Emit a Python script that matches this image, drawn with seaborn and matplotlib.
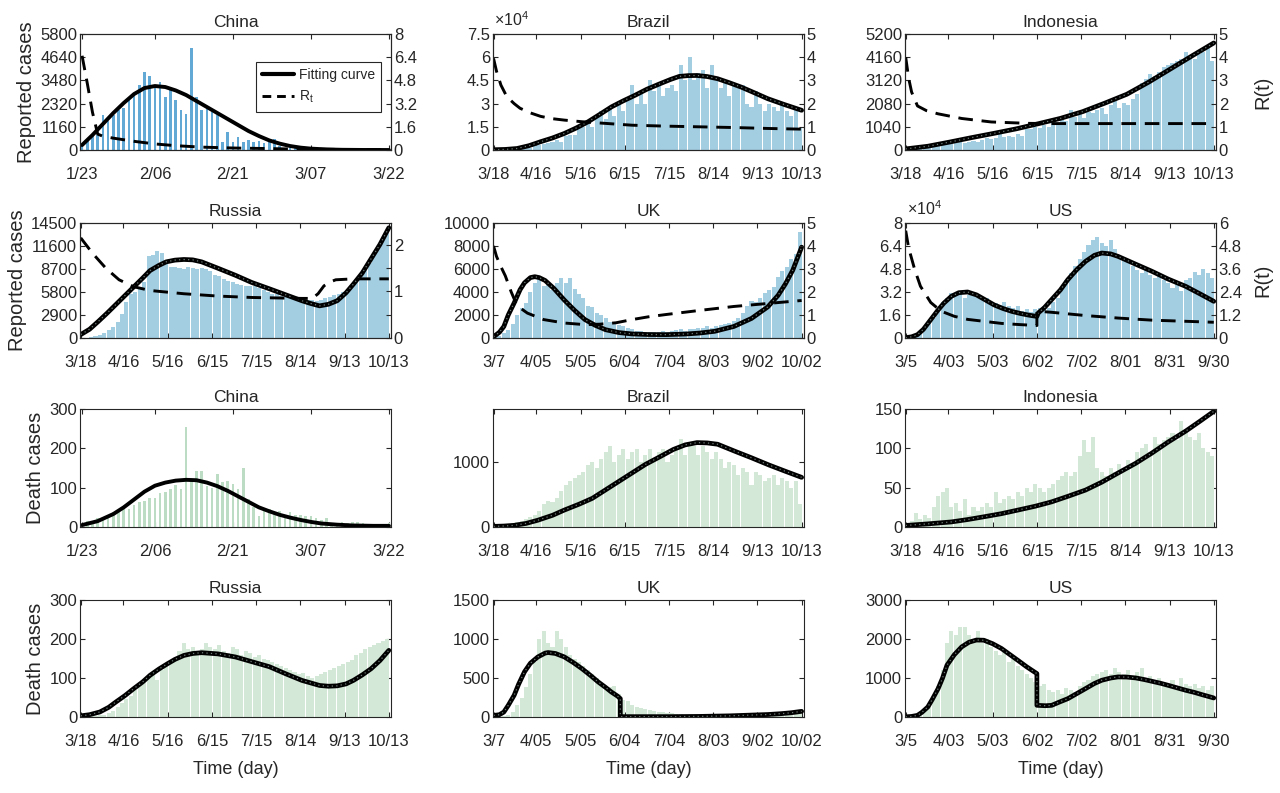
import numpy as np
import matplotlib
matplotlib.use("Agg")
import matplotlib.pyplot as plt
from matplotlib.lines import Line2D
import seaborn as sns

# x-axis dates
china_dates = ["1/23", "2/06", "2/21", "3/07", "3/22"]
march18_dates = ["3/18", "4/16", "5/16", "6/15", "7/15", "8/14", "9/13", "10/13"]
uk_dates = ["3/7", "4/05", "5/05", "6/04", "7/04", "8/03", "9/02", "10/02"]
us_dates = ["3/5", "4/03", "5/03", "6/02", "7/02", "8/01", "8/31", "9/30"]
china_tick_day = [0, 14, 29, 44, 59]
long_tick_day = [0, 29, 59, 89, 119, 149, 179, 209]

# ---------------- reported cases (China daily, others in 3-day bins)
china_cases = [259, 444, 688, 769, 1771, 1459, 1737, 1982, 2102, 2590,
               2829, 3235, 3887, 3694, 3143, 3399, 2656, 3062, 2478, 2015,
               1820, 5090, 2641, 2008, 2048, 1886, 1749, 394, 889, 397,
               648, 409, 508, 406, 433, 327, 427, 573, 202, 125,
               119, 139, 143, 99, 44, 40, 19, 24, 15, 8,
               11, 20, 16, 21, 13, 34, 39, 41, 46, 39]
brazil_cases = [300, 400, 500, 500, 800, 1000, 1300, 1500, 1200, 2500,
                3000, 4000, 4500, 5500, 6500, 5500, 9000, 10000, 9500, 14000,
                15000, 17000, 15000, 22000, 25000, 20000, 28000, 22000, 32000, 25000,
                33000, 42000, 30000, 38000, 30000, 45000, 38000, 43000, 35000, 40000,
                42000, 38000, 55000, 45000, 60000, 45000, 50000, 52000, 40000, 55000,
                45000, 40000, 45000, 35000, 42000, 40000, 42000, 30000, 28000, 38000,
                30000, 25000, 30000, 28000, 25000, 30000, 25000, 22000, 28000, 14000]
indonesia_cases = [40, 80, 100, 120, 150, 180, 230, 330, 300, 320,
                   350, 300, 380, 330, 350, 400, 380, 450, 550, 500,
                   550, 750, 600, 650, 600, 700, 650, 950, 950, 1050,
                   1000, 1100, 1050, 1250, 1200, 1400, 1300, 1800, 1500, 1600,
                   1450, 1700, 1650, 1800, 1900, 1600, 2000, 2200, 1900, 2100,
                   2000, 2300, 2500, 3000, 3200, 3400, 3300, 3500, 3700, 3800,
                   3900, 4000, 4100, 4400, 4200, 4100, 4300, 4400, 4600, 4000]
russia_cases = [20, 50, 100, 200, 400, 600, 1000, 1400, 2000, 3000,
                4500, 5500, 5800, 6300, 7000, 10300, 10500, 11000, 10700, 9500,
                9000, 8900, 8800, 8700, 8900, 8800, 8700, 8800, 8700, 8400,
                8000, 7800, 7500, 7200, 7000, 6800, 6700, 6600, 6600, 6500,
                6300, 6000, 5800, 5600, 5500, 5300, 5200, 5100, 5050, 4950,
                4900, 4850, 4750, 4700, 4800, 5000, 5200, 5400, 5600, 5800,
                6100, 6600, 7200, 7900, 8800, 9400, 10500, 11500, 12300, 13300]
uk_cases = [60, 150, 400, 700, 1200, 2000, 2600, 3000, 4000, 4800,
            5200, 4500, 4800, 4200, 4800, 5200, 4800, 5200, 4300, 3800,
            3500, 2800, 2700, 2200, 2000, 1700, 1400, 1300, 1100, 1000,
            850, 750, 650, 600, 550, 500, 550, 500, 600, 500,
            650, 700, 800, 650, 750, 800, 900, 850, 1000, 900,
            1000, 1100, 1200, 1300, 1500, 1700, 2200, 2800, 3200, 3100,
            3500, 3900, 4200, 4400, 5300, 5800, 6200, 6900, 7300, 9200]
us_cases = [200, 500, 1200, 3000, 6000, 11000, 14000, 19000, 25000, 28000,
            31000, 30000, 31000, 28000, 30000, 31000, 29000, 27000, 28000, 25000,
            24000, 23000, 25000, 22000, 21000, 22000, 19000, 20000, 18000, 20000,
            21000, 22000, 21000, 25000, 28000, 34000, 40000, 45000, 50000, 55000,
            60000, 65000, 68000, 70000, 66000, 64000, 68000, 62000, 58000, 55000,
            53000, 50000, 47000, 45000, 48000, 44000, 42000, 44000, 40000, 38000,
            35000, 38000, 33000, 40000, 42000, 46000, 44000, 48000, 45000, 42000]

# fitting curves for reported cases (day, value)
china_fit_day = [0, 2, 4, 6, 8, 10, 12, 14, 16, 18, 20, 22, 24, 26, 28, 30, 32, 34, 36, 38, 40, 42, 44, 47, 50, 54, 59]
china_fit = [250, 750, 1300, 1850, 2350, 2800, 3100, 3200, 3150, 2980, 2750, 2450, 2150, 1850, 1550, 1250, 950, 700,
             480, 320, 200, 120, 70, 30, 12, 4, 1]
brazil_fit_day = [0, 8, 16, 24, 32, 40, 48, 56, 64, 72, 80, 88, 96, 104, 113, 120, 126, 132, 138, 145, 152, 160, 168,
                  177, 186, 197, 209]
brazil_fit = [200, 400, 1000, 2800, 5400, 7800, 10700, 14200, 18200, 23000, 27900, 31800, 35400, 39300, 42900, 45600,
              47600, 48100, 48200, 47500, 46100, 43500, 40700, 37000, 33200, 29500, 25700]
indonesia_fit_day = [0, 15, 30, 45, 60, 75, 90, 105, 120, 135, 150, 165, 180, 195, 209]
indonesia_fit = [50, 170, 360, 560, 750, 950, 1180, 1420, 1720, 2100, 2500, 3050, 3650, 4250, 4800]
russia_fit_day = [0, 6, 12, 18, 24, 30, 36, 42, 47, 53, 58, 64, 70, 76, 82, 93, 105, 116, 128, 139, 150, 156, 162, 168,
                  174, 180, 185, 191, 197, 203, 209]
russia_fit = [430, 1100, 2100, 3150, 4250, 5350, 6450, 7550, 8500, 9150, 9600, 9820, 9900, 9850, 9600, 8800, 7900, 7000,
              6200, 5450, 4700, 4350, 4050, 4250, 4700, 5700, 6800, 8200, 10000, 11800, 13900]
uk_fit_day = [0, 4, 7, 10, 14, 18, 21, 25, 28, 31, 35, 41, 48, 55, 62, 69, 76, 85, 94, 105, 117, 130, 140, 150, 163,
              175, 186, 193, 198, 203, 209]
uk_fit = [100, 500, 1000, 2000, 3050, 4200, 4800, 5250, 5330, 5250, 5000, 4300, 3300, 2400, 1600, 1100, 720, 470, 350,
          300, 290, 340, 430, 580, 1000, 1700, 2700, 3700, 4700, 5900, 7900]
us_fit_day = [0, 4, 8, 12, 17, 22, 26, 31, 36, 42, 48, 54, 60, 66, 72, 78, 84, 89, 90, 94, 99, 105, 110, 116, 122, 128,
              133, 139, 144, 155, 167, 178, 190, 200, 209]
us_fit = [200, 800, 2300, 6000, 12750, 19500, 24350, 29000, 31500, 32000, 30000, 26500, 23000, 20500, 18500, 17000,
          15800, 15000, 17500, 21000, 26700, 33500, 40600, 47500, 53300, 57500, 59100, 58500, 56800, 51800, 46400,
          41000, 35900, 30500, 25500]

# effective reproduction number R(t)
china_rt_day = [0, 1, 2, 3, 4, 6, 10, 14, 18, 23, 29, 36, 42, 50, 59]
china_rt = [6.5, 4.6, 2.6, 1.1, 0.95, 0.82, 0.6, 0.42, 0.3, 0.2, 0.14, 0.1, 0.06, 0.04, 0.03]
brazil_rt_day = [0, 2, 5, 9, 14, 18, 25, 32, 40, 48, 60, 71, 94, 117, 140, 163, 186, 209]
brazil_rt = [3.95, 3.4, 2.8, 2.3, 2.0, 1.8, 1.6, 1.45, 1.35, 1.29, 1.22, 1.17, 1.07, 1.03, 1.0, 0.97, 0.93, 0.9]
indonesia_rt_day = [0, 2, 4, 8, 14, 22, 38, 58, 83, 100, 209]
indonesia_rt = [4.0, 3.1, 2.5, 1.9, 1.7, 1.56, 1.36, 1.21, 1.15, 1.14, 1.14]
russia_rt_day = [0, 8, 17, 26, 36, 47, 70, 93, 116, 150, 157, 161, 165, 169, 173, 185, 209]
russia_rt = [2.15, 1.82, 1.5, 1.25, 1.1, 1.02, 0.95, 0.9, 0.87, 0.85, 0.85, 0.95, 1.12, 1.2, 1.25, 1.27, 1.27]
uk_rt_day = [0, 2, 5, 8, 12, 16, 23, 34, 48, 62, 72, 83, 94, 105, 117, 140, 163, 186, 209]
uk_rt = [4.0, 3.55, 3.1, 2.7, 2.0, 1.4, 1.08, 0.8, 0.65, 0.58, 0.6, 0.66, 0.8, 0.92, 1.02, 1.2, 1.37, 1.5, 1.63]
us_rt_day = [0, 2, 6, 10, 17, 24, 33, 42, 53, 65, 77, 89, 89, 99, 122, 144, 167, 190, 209]
us_rt = [5.6, 4.7, 3.6, 2.7, 1.85, 1.4, 1.13, 0.97, 0.87, 0.76, 0.7, 0.65, 1.4, 1.34, 1.17, 1.04, 0.93, 0.87, 0.82]

# ---------------- death cases
china_deaths = [8, 16, 15, 24, 26, 26, 38, 43, 46, 45, 57, 64, 65, 73, 73, 86, 89, 97, 108, 97,
                254, 121, 143, 142, 105, 98, 136, 114, 118, 109, 97, 150, 71, 52, 29, 44, 47, 35, 42, 31,
                38, 31, 30, 28, 27, 22, 17, 22, 11, 7, 13, 10, 14, 13, 11, 8, 3, 7, 6, 9]
brazil_deaths = [5, 15, 25, 40, 60, 80, 100, 120, 150, 180,
                 250, 350, 400, 380, 450, 550, 650, 700, 750, 800,
                 850, 950, 1000, 900, 1050, 1150, 1250, 1000, 1100, 1200,
                 1050, 1150, 1200, 1000, 1100, 1200, 1050, 1150, 1200, 1000,
                 1100, 1200, 1350, 1100, 1300, 1250, 1100, 1250, 1150, 1050,
                 1150, 1050, 900, 1000, 950, 800, 900, 850, 650, 850,
                 800, 700, 750, 800, 650, 750, 700, 600, 700, 350]
indonesia_deaths = [3, 8, 18, 10, 15, 12, 25, 40, 45, 50,
                    25, 30, 20, 35, 15, 25, 20, 25, 30, 25,
                    45, 30, 35, 40, 35, 45, 40, 50, 45, 55,
                    50, 45, 50, 55, 60, 65, 70, 65, 70, 90,
                    110, 95, 115, 75, 70, 65, 75, 70, 80, 75,
                    85, 80, 95, 100, 105, 95, 115, 105, 110, 115,
                    120, 110, 135, 125, 115, 110, 120, 100, 95, 90]
russia_deaths = [1, 1, 2, 3, 4, 6, 10, 15, 25, 35,
                 45, 55, 70, 85, 95, 100, 110, 95, 120, 130,
                 140, 145, 170, 190, 175, 180, 170, 175, 190, 180,
                 175, 185, 170, 165, 180, 175, 160, 170, 165, 155,
                 160, 150, 145, 140, 135, 130, 125, 120, 115, 110,
                 112, 105, 100, 105, 110, 115, 120, 125, 130, 135,
                 140, 145, 160, 165, 175, 180, 185, 190, 195, 200]
uk_deaths = [1, 5, 15, 30, 60, 150, 250, 380, 550, 700,
             1000, 1100, 950, 900, 1100, 1000, 900, 800, 750, 700,
             650, 600, 550, 500, 420, 400, 380, 400, 300, 220,
             200, 150, 130, 110, 100, 90, 80, 70, 60, 55,
             50, 40, 35, 30, 25, 20, 20, 15, 15, 12,
             12, 10, 10, 10, 12, 12, 15, 15, 20, 20,
             25, 25, 30, 35, 35, 40, 50, 55, 60, 70]
us_deaths = [5, 10, 30, 60, 150, 300, 500, 800, 1200, 1900,
             2200, 2100, 2300, 2300, 2100, 2000, 2200, 1900, 2000, 1800,
             1700, 1600, 1700, 1400, 1500, 1300, 1200, 1100, 1000, 900,
             800, 850, 700, 650, 700, 600, 750, 700, 650, 800,
             900, 950, 1050, 1100, 1150, 1200, 1100, 1250, 1150, 1100,
             1200, 1050, 1150, 1250, 1000, 1050, 950, 1000, 900, 850,
             950, 800, 1000, 850, 800, 850, 750, 800, 700, 800]

china_death_fit_day = [0, 3, 6, 8, 10, 12, 14, 16, 18, 20, 22, 24, 26, 28, 30, 32, 34, 36, 38, 40, 42, 44, 46, 49, 52,
                       56, 59]
china_death_fit = [5, 15, 33, 50, 70, 90, 105, 113, 118, 120, 119, 113, 104, 92, 78, 64, 50, 40, 31, 24, 18, 13, 9, 6,
                   4, 3, 3]
brazil_death_fit_day = [0, 7, 14, 22, 30, 40, 48, 58, 67, 76, 85, 94, 103, 113, 122, 130, 138, 145, 152, 164, 175, 187,
                        198, 209]
brazil_death_fit = [10, 15, 26, 55, 104, 180, 260, 350, 440, 570, 700, 830, 960, 1080, 1190, 1260, 1295, 1290, 1270,
                    1160, 1062, 950, 855, 762]
indonesia_death_fit_day = [0, 15, 31, 42, 53, 65, 76, 88, 99, 110, 122, 133, 144, 156, 167, 178, 190, 200, 209]
indonesia_death_fit = [2, 4, 6.5, 9.5, 13, 17, 21.5, 26.5, 32, 39, 47, 57, 68.6, 81, 94, 108, 122, 135, 147]
russia_death_fit_day = [0, 6, 13, 19, 24, 30, 36, 42, 47, 53, 59, 64, 70, 76, 82, 93, 105, 116, 128, 139, 150, 162, 168,
                        174, 180, 185, 191, 197, 203, 209]
russia_death_fit = [3, 6, 13, 25, 39, 55, 73, 90, 107, 123, 137, 148, 158, 163, 165, 162, 154, 142, 129, 111, 94, 81,
                    79, 80, 85, 94, 108, 124, 145, 171]
uk_death_fit_day = [0, 4, 7, 10, 14, 17, 21, 25, 30, 35, 37, 42, 48, 54, 60, 66, 71, 76, 80, 84, 86, 86, 100, 120, 140,
                    160, 175, 186, 195, 202, 209]
uk_death_fit = [20, 30, 64, 150, 280, 420, 580, 690, 770, 820, 827, 815, 771, 700, 620, 530, 450, 380, 320, 270, 236, 5,
                5, 5, 8, 15, 25, 32, 43, 55, 73]
us_death_fit_day = [0, 4, 8, 11, 15, 18, 22, 25, 28, 33, 38, 43, 48, 53, 59, 65, 70, 76, 82, 89, 89, 95, 99, 104, 110,
                    116, 122, 128, 133, 139, 144, 150, 156, 162, 167, 173, 178, 184, 190, 196, 201, 209]
us_death_fit = [5, 15, 43, 120, 257, 450, 729, 1000, 1329, 1600, 1800, 1920, 1975, 1970, 1880, 1757, 1620, 1457, 1290,
                1114, 300, 290, 300, 380, 471, 600, 729, 860, 943, 1000, 1029, 1025, 1003, 960, 917, 865, 814, 750,
                686, 630, 574, 489]

# ---------------- style
sns.set_style("ticks")
plt.rcParams["font.family"] = ["Liberation Sans", "DejaVu Sans"]
plt.rcParams["mathtext.fontset"] = "custom"
plt.rcParams["mathtext.rm"] = "Liberation Sans"
INK = "#262626"
BLUE_DAILY, BLUE = "#62a9d6", "#a3cee2"
GREEN_DAILY, GREEN = "#bcdcc3", "#d3e8d7"

fig = plt.figure(figsize=(12.8, 7.93), dpi=100)
col_left = [0.0625, 0.385, 0.707]
col_w = 0.243
row_box = [(0.8108, 0.1463), (0.5738, 0.1450), (0.3354, 0.1488), (0.0958, 0.1475)]


def line(ax, x, y, **kw):
    sns.lineplot(x=x, y=y, ax=ax, sort=False, estimator=None, **kw)


def panel(row, col, title, bars, color, fit_day, fit_val, ylim, yticks,
          daily=False, scale=1, ylabel=None, mirror=True):
    bottom, height = row_box[row]
    ax = fig.add_axes([col_left[col], bottom, col_w, height])
    if daily:
        ax.bar(np.arange(len(bars)), bars, width=0.5, color=color, linewidth=0)
        line(ax, fit_day, fit_val, color="black", lw=2.8)
    else:
        ax.bar(np.arange(len(bars)) * 3 + 1, bars, width=2.75, color=color, linewidth=0)
        line(ax, fit_day, fit_val, color="black", lw=3.4)
        line(ax, fit_day, fit_val, color="#6f7b78", lw=0.9, linestyle=(0, (1.0, 2.6)))
    ax.set_ylim(*ylim)
    ax.set_yticks(yticks)
    ax.set_yticklabels([f"{v / scale:g}" for v in yticks])
    ax.set_title(title, fontsize=12.5, color=INK, pad=5)
    ax.tick_params(direction="in", length=3.5, width=0.8, labelsize=12, colors=INK,
                   top=True, right=mirror, pad=2)
    ax.tick_params(axis="x", pad=12)
    for s in ax.spines.values():
        s.set_visible(True)
        s.set_linewidth(0.8)
        s.set_color(INK)
    if scale != 1:
        ax.text(0.005, 1.04, r"$\times10^{4}$", transform=ax.transAxes, ha="left", va="bottom",
                fontsize=11.5, color=INK)
    if ylabel:
        ax.set_ylabel(ylabel, fontsize=14.5, color=INK, labelpad=3)
    ax.set_xlabel("")
    return ax


def add_rt(ax, rt_day, rt_val, ylim, yticks, labels=None, ylabel=None):
    ax2 = ax.twinx()
    line(ax2, rt_day, rt_val, color="black", lw=2.1, linestyle=(0, (5, 3)))
    ax2.set_ylim(*ylim)
    ax2.set_yticks(yticks)
    ax2.set_yticklabels(labels if labels else [f"{v:g}" for v in yticks])
    ax2.tick_params(direction="in", length=3.5, width=0.8, labelsize=12, colors=INK, pad=2)
    for s in ax2.spines.values():
        s.set_linewidth(0.8)
        s.set_color(INK)
    ax2.set_ylabel(ylabel if ylabel else "", fontsize=14.5, color=INK)
    ax2.yaxis.set_label_coords(1.12, 0.5)
    return ax2


def finish_x(ax, daily, dates, xlabel=None):
    if daily:
        ax.set_xlim(-0.4, 59.4)
        ax.set_xticks(china_tick_day)
    else:
        ax.set_xlim(-0.5, 210.5)
        ax.set_xticks(long_tick_day)
    ax.set_xticklabels(dates)
    if xlabel:
        ax.set_xlabel(xlabel, fontsize=13, color=INK, labelpad=9)


# row 1: reported cases
ax = panel(0, 0, "China", china_cases, BLUE_DAILY, china_fit_day, china_fit, (0, 5800),
           np.linspace(0, 5800, 6), daily=True, ylabel="Reported cases", mirror=False)
ax2 = add_rt(ax, china_rt_day, china_rt, (0, 8), np.linspace(0, 8, 6))
finish_x(ax, True, china_dates)
handles = [Line2D([], [], color="black", lw=3), Line2D([], [], color="black", lw=2.1, linestyle=(0, (3, 2)))]
leg = ax2.legend(handles, ["Fitting curve", r"R$_{\mathregular{t}}$"], loc="upper left",
                 bbox_to_anchor=(0.565, 0.76), fontsize=10, frameon=True, fancybox=False,
                 framealpha=1, edgecolor=INK, handlelength=2.3, handletextpad=0.35,
                 borderpad=0.45, labelspacing=0.5, borderaxespad=0)
leg.get_frame().set_linewidth(0.8)

ax = panel(0, 1, "Brazil", brazil_cases, BLUE, brazil_fit_day, brazil_fit, (0, 75000),
           np.linspace(0, 75000, 6), scale=1e4, mirror=False)
add_rt(ax, brazil_rt_day, brazil_rt, (0, 5), np.linspace(0, 5, 6))
finish_x(ax, False, march18_dates)

ax = panel(0, 2, "Indonesia", indonesia_cases, BLUE, indonesia_fit_day, indonesia_fit, (0, 5200),
           np.linspace(0, 5200, 6), mirror=False)
add_rt(ax, indonesia_rt_day, indonesia_rt, (0, 5), np.linspace(0, 5, 6), ylabel="R(t)")
finish_x(ax, False, march18_dates)

# row 2
ax = panel(1, 0, "Russia", russia_cases, BLUE, russia_fit_day, russia_fit, (0, 14500),
           np.linspace(0, 14500, 6), ylabel="Reported cases", mirror=False)
add_rt(ax, russia_rt_day, russia_rt, (0, 2.47), [0, 0.5, 1, 1.5, 2], labels=["0", "", "1", "", "2"])
finish_x(ax, False, march18_dates)

ax = panel(1, 1, "UK", uk_cases, BLUE, uk_fit_day, uk_fit, (0, 10000),
           np.linspace(0, 10000, 6), mirror=False)
add_rt(ax, uk_rt_day, uk_rt, (0, 5), np.linspace(0, 5, 6))
finish_x(ax, False, uk_dates)

ax = panel(1, 2, "US", us_cases, BLUE, us_fit_day, us_fit, (0, 80000),
           np.linspace(0, 80000, 6), scale=1e4, mirror=False)
add_rt(ax, us_rt_day, us_rt, (0, 6), np.linspace(0, 6, 6), ylabel="R(t)")
finish_x(ax, False, us_dates)

# row 3: deaths
ax = panel(2, 0, "China", china_deaths, GREEN_DAILY, china_death_fit_day, china_death_fit, (0, 300),
           [0, 100, 200, 300], daily=True, ylabel="Death cases")
finish_x(ax, True, china_dates)
ax = panel(2, 1, "Brazil", brazil_deaths, GREEN, brazil_death_fit_day, brazil_death_fit, (0, 1810),
           [0, 1000])
finish_x(ax, False, march18_dates)
ax = panel(2, 2, "Indonesia", indonesia_deaths, GREEN, indonesia_death_fit_day, indonesia_death_fit, (0, 150),
           [0, 50, 100, 150])
finish_x(ax, False, march18_dates)

# row 4
ax = panel(3, 0, "Russia", russia_deaths, GREEN, russia_death_fit_day, russia_death_fit, (0, 300),
           [0, 100, 200, 300], ylabel="Death cases")
finish_x(ax, False, march18_dates, "Time (day)")
ax = panel(3, 1, "UK", uk_deaths, GREEN, uk_death_fit_day, uk_death_fit, (0, 1500),
           [0, 500, 1000, 1500])
finish_x(ax, False, uk_dates, "Time (day)")
ax = panel(3, 2, "US", us_deaths, GREEN, us_death_fit_day, us_death_fit, (0, 3000),
           [0, 1000, 2000, 3000])
finish_x(ax, False, us_dates, "Time (day)")

fig.savefig("out.png", dpi=100)
